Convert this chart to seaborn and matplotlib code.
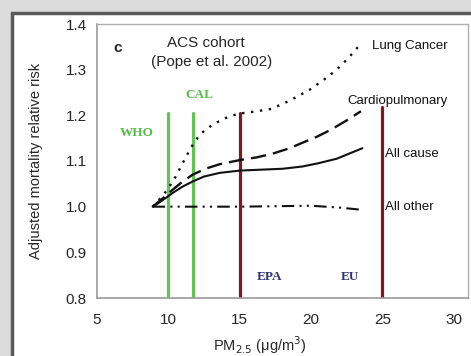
import matplotlib
matplotlib.use("Agg")
import matplotlib.pyplot as plt
import matplotlib.patches as mpatches
import pandas as pd
import seaborn as sns

# curves (PM2.5 in ug/m3, relative risk)
lung_x = [8.9, 9.5, 10.0, 10.5, 11.0, 11.6, 12.2, 12.9, 13.6, 14.3, 15.0, 16.0, 17.2,
          18.5, 19.9, 20.9, 21.8, 22.6, 23.3]
lung_y = [1.0, 1.02, 1.04, 1.065, 1.095, 1.13, 1.158, 1.175, 1.188, 1.198, 1.204, 1.208,
          1.214, 1.232, 1.256, 1.278, 1.30, 1.325, 1.35]
cardio_x = [8.9, 9.6, 10.3, 11.0, 11.7, 12.6, 13.6, 15.0, 16.2, 17.3, 18.5, 19.4, 20.4,
            21.3, 22.4, 23.5]
cardio_y = [1.0, 1.018, 1.037, 1.055, 1.07, 1.083, 1.093, 1.102, 1.108, 1.116, 1.128,
            1.14, 1.153, 1.167, 1.187, 1.209]
allcause_x = [8.9, 9.5, 10.3, 11.0, 11.7, 12.5, 13.6, 15.0, 16.5, 18.0, 19.4, 20.5,
              21.8, 23.6]
allcause_y = [1.0, 1.012, 1.03, 1.044, 1.055, 1.066, 1.074, 1.079, 1.081, 1.083, 1.088,
              1.095, 1.105, 1.128]
other_x = [8.9, 12.0, 15.0, 20.0, 22.0, 23.6]
other_y = [1.0, 1.0, 1.0, 1.002, 0.998, 0.993]

series_names = ["Lung Cancer", "Cardiopulmonary", "All cause", "All other"]
label_pos = [(24.25, 1.352), (22.55, 1.231), (25.2, 1.116), (25.2, 1.0)]

# standards (vertical bars)
std_x = [10.0, 11.7, 15.0, 25.0]
std_top = [1.206, 1.206, 1.206, 1.219]
std_color = ["#62c553", "#62c553", "#7b1a1f", "#7b1a1f"]
std_names = ["WHO", "CAL", "EPA", "EU"]
std_label_pos = [(7.8, 1.162), (12.15, 1.245), (17.1, 0.845), (22.7, 0.845)]
std_label_color = ["#55b848", "#55b848", "#2d3470", "#2d3470"]

sns.set_style("white")
plt.rcParams["font.family"] = ["Liberation Sans", "DejaVu Sans"]

fig = plt.figure(figsize=(4.71, 3.56), dpi=100)

# picture frame with a soft shadow
fig.patches.append(mpatches.Rectangle((0, 0), 1, 1, transform=fig.transFigure,
                                      facecolor="#dcdcdc", edgecolor="none", zorder=-3))
fig.patches.append(mpatches.Rectangle((12 / 471, -0.1), 1.1, 1 - 13 / 356 + 0.1,
                                      transform=fig.transFigure, facecolor="white",
                                      edgecolor="#5a5a5a", linewidth=2.5, zorder=-2))

ax = fig.add_axes([97 / 471, 58 / 356, 371 / 471, 274 / 356])

for xs, c, top in zip(std_x, std_color, std_top):
    ax.plot([xs, xs], [0.8, top], color=c, linewidth=2.3, zorder=1)

curves = [
    (lung_x, lung_y, (0, (1, 2.8)), 1.7),
    (cardio_x, cardio_y, (0, (6.5, 3)), 1.7),
    (allcause_x, allcause_y, "-", 1.5),
    (other_x, other_y, (0, (6, 2.5, 1, 2.5, 1, 2.5)), 1.5),
]
for (xs, ys, ls, lw), name in zip(curves, series_names):
    df = pd.DataFrame({"pm": xs, "rr": ys})
    sns.lineplot(data=df, x="pm", y="rr", ax=ax, color="#111111",
                 linestyle=ls, linewidth=lw, zorder=3)

for name, (tx, ty) in zip(series_names, label_pos):
    ax.text(tx, ty, name, fontsize=9.5, ha="left", va="center", color="#111111")

for name, (tx, ty), c in zip(std_names, std_label_pos, std_label_color):
    ax.text(tx, ty, name, fontsize=9.5, ha="center", va="center", color=c,
            family=["Liberation Serif", "DejaVu Serif"], fontweight="bold")

ax.text(6.45, 1.348, "c", fontsize=11, fontweight="bold", ha="center", va="center")
ax.text(12.6, 1.359, "ACS cohort", fontsize=11, ha="center", va="center")
ax.text(13.0, 1.317, "(Pope et al. 2002)", fontsize=11, ha="center", va="center")

ax.set_xlim(5, 31)
ax.set_ylim(0.8, 1.4)
ax.set_xticks([5, 10, 15, 20, 25, 30])
ax.set_yticks([0.8, 0.9, 1.0, 1.1, 1.2, 1.3, 1.4])
ax.set_yticklabels(["0.8", "0.9", "1.0", "1.1", "1.2", "1.3", "1.4"])
ax.tick_params(axis="both", labelsize=11, length=2.5, width=0.8, color="#999999",
               direction="out", pad=5)
ax.tick_params(axis="x", pad=8)
ax.set_xlabel(r"PM$_{2.5}$ ($\mathregular{\mu}$g/m$^3$)", fontsize=10.5)
ax.xaxis.set_label_coords(0.44, -0.132)
ax.set_ylabel("Adjusted mortality relative risk", fontsize=10.5)
ax.yaxis.set_label_coords(-0.145, 0.5)

for side in ["top", "right"]:
    ax.spines[side].set_color("#b0b0b0")
    ax.spines[side].set_linewidth(1.0)
for side in ["left", "bottom"]:
    ax.spines[side].set_color("#9a9a9a")
    ax.spines[side].set_linewidth(1.2)

fig.savefig("out.png", dpi=100)
